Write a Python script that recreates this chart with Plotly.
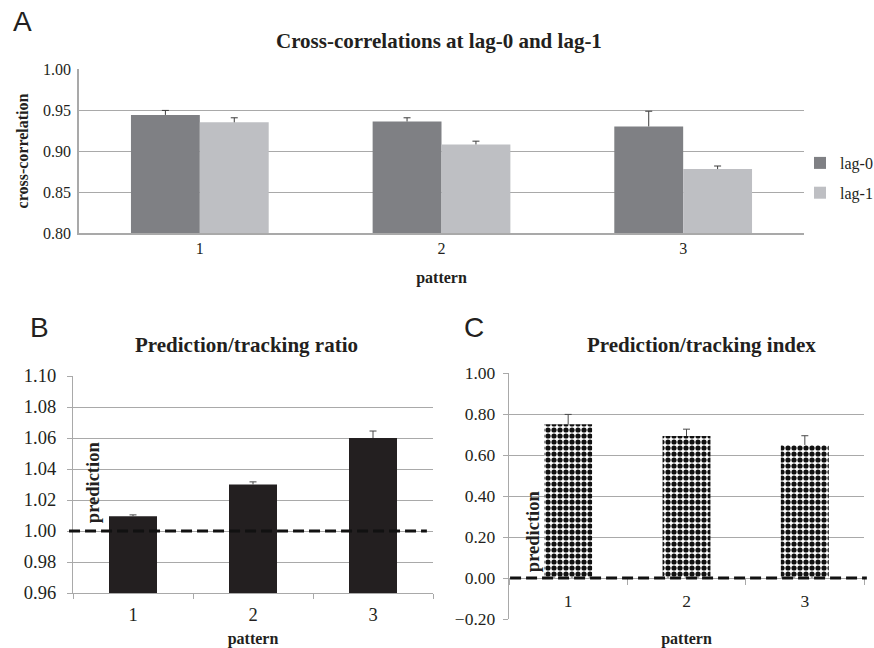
import plotly.graph_objects as go

# ---------------- data ----------------
patterns = ["1", "2", "3"]

lag0 = [0.944, 0.936, 0.930]
lag0_err = [0.0055, 0.0045, 0.0185]
lag1 = [0.935, 0.908, 0.878]
lag1_err = [0.0055, 0.0040, 0.0037]

ratio = [1.0095, 1.030, 1.060]
ratio_err = [0.0009, 0.0017, 0.0045]

index_vals = [0.750, 0.693, 0.649]
index_err = [0.048, 0.033, 0.045]

ratio_ref = 1.0
index_ref = 0.0

yticks_a = [0.80, 0.85, 0.90, 0.95, 1.00]
yticks_b = [0.96, 0.98, 1.00, 1.02, 1.04, 1.06, 1.08, 1.10]
yticks_c = [-0.20, 0.00, 0.20, 0.40, 0.60, 0.80, 1.00]

# ---------------- style ----------------
SERIF = "Liberation Serif, Times New Roman, serif"
SANS = "Liberation Sans, Arial, sans-serif"
GRID = "#a9a9a9"
C_LAG0 = "#7f8084"
C_LAG1 = "#bebfc3"
C_DARK = "#231f20"
ERR = "#3c3c3c"
ERR2 = "#4a4a4a"
BARGAP = 0.43

W, H = 874, 648


def px_x(p):
    return p / W


def px_y(p):
    return 1 - p / H


dom_a = dict(x=[px_x(79), px_x(804)], y=[px_y(233), px_y(69)])
dom_b = dict(x=[px_x(73), px_x(433)], y=[px_y(593), px_y(376)])
dom_c = dict(x=[px_x(509), px_x(864)], y=[px_y(619), px_y(373)])


def err(arr, color=ERR):
    # upward-only stem; the cap is drawn by a marker trace (no cap on the bar top)
    return dict(type="data", array=arr, arrayminus=[0] * len(arr), symmetric=False,
                color=color, thickness=1, width=0)


def caps(vals, errs, xa, ya, group, color=ERR):
    tops = [v + e for v, e in zip(vals, errs)]
    return go.Scatter(x=patterns, y=tops, mode="markers", xaxis=xa, yaxis=ya, showlegend=False,
                      offsetgroup=group, hoverinfo="skip",
                      marker=dict(symbol="line-ew", size=5, color=color, line=dict(width=1, color=color)))


fig = go.Figure()

# Panel A
fig.add_trace(go.Bar(x=patterns, y=lag0, name="lag-0", marker=dict(color=C_LAG0, line=dict(width=0)),
                     error_y=err(lag0_err), xaxis="x", yaxis="y", legendgroup="a0", offsetgroup="a0"))
fig.add_trace(go.Bar(x=patterns, y=lag1, name="lag-1", marker=dict(color=C_LAG1, line=dict(width=0)),
                     error_y=err(lag1_err), xaxis="x", yaxis="y", legendgroup="a1", offsetgroup="a1"))
fig.add_trace(caps(lag0, lag0_err, "x", "y", "a0"))
fig.add_trace(caps(lag1, lag1_err, "x", "y", "a1"))

# Panel B
fig.add_trace(go.Bar(x=patterns, y=ratio, width=[0.4] * 3, showlegend=False,
                     marker=dict(color=C_DARK, line=dict(width=0)),
                     error_y=err(ratio_err, ERR2), xaxis="x2", yaxis="y2"))
fig.add_trace(caps(ratio, ratio_err, "x2", "y2", "b", ERR2))

# Panel C
fig.add_trace(go.Bar(x=patterns, y=index_vals, width=[0.405] * 3, showlegend=False,
                     marker=dict(color="white", line=dict(width=0),
                                 pattern=dict(shape=".", fgcolor="#111111", bgcolor="white",
                                              size=6, solidity=0.6, fillmode="replace")),
                     error_y=err(index_err, ERR2), xaxis="x3", yaxis="y3"))
fig.add_trace(caps(index_vals, index_err, "x3", "y3", "c", ERR2))

tickfont_a = dict(family=SERIF, size=16, color="#231f20")
tickfont_b = dict(family=SERIF, size=18.5, color="#231f20")
tickfont_c = dict(family=SERIF, size=17.5, color="#231f20")
titlefont = dict(family=SERIF, size=16, color="#231f20", weight="bold")

c_zero_pos = dom_c["y"][0] + (0 - yticks_c[0]) / (yticks_c[-1] - yticks_c[0]) * (dom_c["y"][1] - dom_c["y"][0])

fig.update_layout(
    width=W, height=H,
    margin=dict(l=0, r=0, t=0, b=0, autoexpand=False),
    paper_bgcolor="white", plot_bgcolor="white",
    barmode="group", bargap=BARGAP, bargroupgap=0,
    scattermode="group", scattergap=BARGAP,
    font=dict(family=SERIF, color="#231f20"),
    showlegend=True,
    legend=dict(x=px_x(800), y=px_y(146), xanchor="left", yanchor="top",
                font=dict(family=SERIF, size=16, color="#231f20"),
                tracegroupgap=6, traceorder="grouped", bgcolor="rgba(0,0,0,0)"),
    xaxis=dict(domain=dom_a["x"], anchor="y", type="category", range=[-0.5, 2.5],
               showline=True, linecolor=GRID, linewidth=1.5, ticks="", showgrid=False,
               tickfont=tickfont_a, ticklabelstandoff=0,
               title=dict(text="pattern", font=titlefont, standoff=16)),
    yaxis=dict(domain=dom_a["y"], anchor="x", range=[yticks_a[0], yticks_a[-1]],
               tickvals=yticks_a, tickformat=".2f", showgrid=True, gridcolor=GRID, gridwidth=1.3,
               showline=True, linecolor=GRID, linewidth=1.5, ticks="", zeroline=False,
               tickfont=tickfont_a, ticklabelstandoff=3,
               title=dict(text="cross-correlation",
                          font=dict(family=SERIF, size=16, color="#231f20", weight="bold"),
                          standoff=10)),
    xaxis2=dict(domain=dom_b["x"], anchor="y2", type="category", range=[-0.5, 2.5],
                showline=True, linecolor=GRID, linewidth=1.3, ticks="outside", tickson="boundaries",
                ticklen=5, tickcolor=GRID, showgrid=False, tickfont=tickfont_b, ticklabelstandoff=5,
                title=dict(text="pattern", font=titlefont, standoff=8)),
    yaxis2=dict(domain=dom_b["y"], anchor="x2", range=[yticks_b[0], yticks_b[-1]],
                tickvals=yticks_b, tickformat=".2f", showgrid=True, gridcolor=GRID, gridwidth=1.3,
                showline=True, linecolor=GRID, linewidth=1.3, ticks="outside", ticklen=5, tickcolor=GRID,
                zeroline=False, tickfont=tickfont_b, ticklabelstandoff=7),
    xaxis3=dict(domain=dom_c["x"], anchor="free", position=c_zero_pos, type="category", range=[-0.5, 2.5],
                showline=False, ticks="outside", tickson="boundaries",
                ticklen=6, tickcolor=GRID, showgrid=False, tickfont=tickfont_c, ticklabelstandoff=10,
                title=dict(text="pattern", font=titlefont, standoff=24)),
    yaxis3=dict(domain=dom_c["y"], anchor="x3", range=[yticks_c[0], yticks_c[-1]],
                tickvals=yticks_c, tickformat=".2f", showgrid=True, gridcolor=GRID, gridwidth=1.3,
                showline=True, linecolor=GRID, linewidth=1.3, ticks="outside", ticklen=5, tickcolor=GRID,
                zeroline=False, tickfont=tickfont_c, ticklabelstandoff=4),
)

# reference lines (dashed)
fig.add_shape(type="line", xref="x2 domain", yref="y2", x0=-0.011, x1=0.983, y0=ratio_ref, y1=ratio_ref,
              line=dict(color="#111111", width=3, dash="11px,5px"), layer="above")
fig.add_shape(type="line", xref="x3 domain", yref="y3", x0=0.003, x1=1.008, y0=index_ref, y1=index_ref,
              line=dict(color="#111111", width=3, dash="11px,5px"), layer="above")

ann_title = dict(family=SERIF, size=21, color="#231f20", weight="bold")
letter_font = dict(family=SANS, size=28, color="#231f20")
pred_font = dict(family=SERIF, size=18.5, color="#231f20", weight="bold")
annotations = [
    dict(text="Cross-correlations at lag-0 and lag-1", x=px_x(439), y=px_y(41), xref="paper", yref="paper",
         showarrow=False, font=ann_title, xanchor="center", yanchor="middle"),
    dict(text="Prediction/tracking ratio", x=px_x(247), y=px_y(345), xref="paper", yref="paper",
         showarrow=False, font=ann_title, xanchor="center", yanchor="middle"),
    dict(text="Prediction/tracking index", x=px_x(701), y=px_y(345), xref="paper", yref="paper",
         showarrow=False, font=ann_title, xanchor="center", yanchor="middle"),
    dict(text="A", x=px_x(22), y=px_y(21), xref="paper", yref="paper", showarrow=False,
         font=letter_font, xanchor="center", yanchor="middle"),
    dict(text="B", x=px_x(39), y=px_y(327), xref="paper", yref="paper", showarrow=False,
         font=letter_font, xanchor="center", yanchor="middle"),
    dict(text="C", x=px_x(474), y=px_y(327), xref="paper", yref="paper", showarrow=False,
         font=letter_font, xanchor="center", yanchor="middle"),
    dict(text="prediction", textangle=-90, x=0.056, y=ratio_ref, xref="x2 domain", yref="y2",
         showarrow=False, font=pred_font, xanchor="center", yanchor="bottom", yshift=6),
    dict(text="prediction", textangle=-90, x=0.068, y=index_ref, xref="x3 domain", yref="y3",
         showarrow=False, font=pred_font, xanchor="center", yanchor="bottom", yshift=4),
]
fig.update_layout(annotations=annotations)

fig.write_html("out.html")
